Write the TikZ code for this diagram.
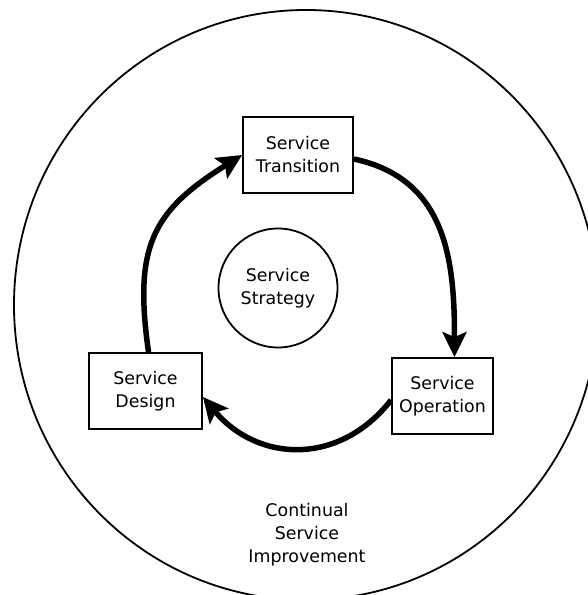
\documentclass[tikz,border=0pt]{standalone}
\usepackage{fontspec}
\setmainfont{DejaVu Sans}
\usetikzlibrary{arrows.meta}

\begin{document}
\begin{tikzpicture}[x = 1pt, y = 1pt,
                    every node/.style = {font=\fontsize{17.4}{23}\selectfont, align=center},
                    stage/.style      = {draw, line width=1.8pt, minimum height=76pt, inner sep=0pt},
                    loop arrow/.style = {line width=5.5pt, -{Stealth[length=25pt, width=24pt, inset=5pt]}}]

    \useasboundingbox (0,0) rectangle (588,595);

    % outer ring
    \draw[line width=1.8pt] (306,290) ellipse (292 and 295);
    \node (csi) at (307,60) {Continual\\Service\\Improvement};

    \node[draw, circle, line width=1.8pt, minimum size=119pt, inner sep=0pt] (strategy) at (278,307) {Service\\Strategy};

    \node[stage, minimum width=110pt] (transition) at (298,440) {Service\\Transition};
    \node[stage, minimum width=113pt] (design)     at (145.5,204) {Service\\Design};
    \node[stage, minimum width=101pt] (operation)  at (442.5,199) {Service\\Operation};

    % the cycle
    \draw[loop arrow] ([xshift=3pt]design.north) to[out=98, in=212, looseness=1.25] (transition.west);
    \draw[loop arrow] ([yshift=-4pt]transition.east) to[out=-12, in=90, looseness=1.1] ([xshift=12pt]operation.north);
    \draw[loop arrow] ([yshift=-4pt]operation.west) to[out=232, in=-50, looseness=1.15] ([yshift=-6pt]design.east);
\end{tikzpicture}
\end{document}
